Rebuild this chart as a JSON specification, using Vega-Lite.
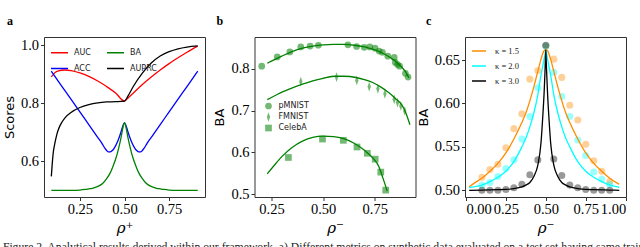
{
  "$schema": "https://vega.github.io/schema/vega-lite/v6.json",
  "padding": {"left": 2, "top": 14, "right": 0, "bottom": 0},
  "background": "white",
  "spacing": 49.5,
  "bounds": "flush",
  "resolve": {"scale": {"color": "independent", "fill": "independent", "shape": "independent", "x": "independent", "y": "independent"}, "legend": {"color": "independent", "shape": "independent"}},
  "title": {
    "text": "Figure 2. Analytical results derived within our framework. a) Different metrics on synthetic data evaluated on a test set having same train",
    "orient": "bottom", "anchor": "start", "frame": "bounds",
    "font": "Liberation Serif", "fontSize": 11.7, "fontWeight": "normal", "color": "#222",
    "offset": 6
  },
  "datasets": {
    "a": [
      {"m":"AUC","x":0.09,"y":0.890},{"m":"AUC","x":0.11,"y":0.905},{"m":"AUC","x":0.13,"y":0.911},{"m":"AUC","x":0.165,"y":0.914},{"m":"AUC","x":0.2,"y":0.912},{"m":"AUC","x":0.25,"y":0.904},{"m":"AUC","x":0.3,"y":0.892},{"m":"AUC","x":0.35,"y":0.876},{"m":"AUC","x":0.4,"y":0.857},{"m":"AUC","x":0.45,"y":0.835},{"m":"AUC","x":0.5,"y":0.807},{"m":"AUC","x":0.52,"y":0.818},{"m":"AUC","x":0.55,"y":0.835},{"m":"AUC","x":0.6,"y":0.864},{"m":"AUC","x":0.65,"y":0.890},{"m":"AUC","x":0.7,"y":0.914},{"m":"AUC","x":0.75,"y":0.936},{"m":"AUC","x":0.8,"y":0.956},{"m":"AUC","x":0.85,"y":0.975},{"m":"AUC","x":0.91,"y":0.996},
      {"m":"ACC","x":0.09,"y":0.910},{"m":"ACC","x":0.15,"y":0.857},{"m":"ACC","x":0.2,"y":0.814},{"m":"ACC","x":0.25,"y":0.770},{"m":"ACC","x":0.3,"y":0.726},{"m":"ACC","x":0.35,"y":0.682},{"m":"ACC","x":0.37,"y":0.665},{"m":"ACC","x":0.38,"y":0.655},{"m":"ACC","x":0.39,"y":0.645},{"m":"ACC","x":0.4,"y":0.637},{"m":"ACC","x":0.41,"y":0.632},{"m":"ACC","x":0.42,"y":0.632},{"m":"ACC","x":0.43,"y":0.636},{"m":"ACC","x":0.44,"y":0.643},{"m":"ACC","x":0.45,"y":0.653},{"m":"ACC","x":0.46,"y":0.666},{"m":"ACC","x":0.47,"y":0.682},{"m":"ACC","x":0.48,"y":0.700},{"m":"ACC","x":0.49,"y":0.720},{"m":"ACC","x":0.5,"y":0.732},{"m":"ACC","x":0.51,"y":0.720},{"m":"ACC","x":0.52,"y":0.700},{"m":"ACC","x":0.53,"y":0.682},{"m":"ACC","x":0.54,"y":0.666},{"m":"ACC","x":0.55,"y":0.653},{"m":"ACC","x":0.56,"y":0.643},{"m":"ACC","x":0.57,"y":0.636},{"m":"ACC","x":0.58,"y":0.632},{"m":"ACC","x":0.59,"y":0.632},{"m":"ACC","x":0.6,"y":0.637},{"m":"ACC","x":0.61,"y":0.645},{"m":"ACC","x":0.62,"y":0.655},{"m":"ACC","x":0.63,"y":0.665},{"m":"ACC","x":0.65,"y":0.682},{"m":"ACC","x":0.7,"y":0.726},{"m":"ACC","x":0.75,"y":0.770},{"m":"ACC","x":0.8,"y":0.814},{"m":"ACC","x":0.85,"y":0.857},{"m":"ACC","x":0.91,"y":0.910},
      {"m":"BA","x":0.09,"y":0.5},{"m":"BA","x":0.2,"y":0.5},{"m":"BA","x":0.25,"y":0.501},{"m":"BA","x":0.28,"y":0.503},{"m":"BA","x":0.3,"y":0.505},{"m":"BA","x":0.32,"y":0.507},{"m":"BA","x":0.34,"y":0.511},{"m":"BA","x":0.36,"y":0.516},{"m":"BA","x":0.38,"y":0.525},{"m":"BA","x":0.4,"y":0.540},{"m":"BA","x":0.42,"y":0.560},{"m":"BA","x":0.44,"y":0.590},{"m":"BA","x":0.45,"y":0.607},{"m":"BA","x":0.46,"y":0.627},{"m":"BA","x":0.47,"y":0.652},{"m":"BA","x":0.48,"y":0.680},{"m":"BA","x":0.49,"y":0.712},{"m":"BA","x":0.495,"y":0.726},{"m":"BA","x":0.5,"y":0.733},{"m":"BA","x":0.505,"y":0.726},{"m":"BA","x":0.51,"y":0.712},{"m":"BA","x":0.52,"y":0.680},{"m":"BA","x":0.53,"y":0.652},{"m":"BA","x":0.54,"y":0.627},{"m":"BA","x":0.55,"y":0.607},{"m":"BA","x":0.56,"y":0.590},{"m":"BA","x":0.58,"y":0.560},{"m":"BA","x":0.6,"y":0.540},{"m":"BA","x":0.62,"y":0.525},{"m":"BA","x":0.64,"y":0.516},{"m":"BA","x":0.66,"y":0.511},{"m":"BA","x":0.68,"y":0.507},{"m":"BA","x":0.7,"y":0.505},{"m":"BA","x":0.72,"y":0.503},{"m":"BA","x":0.75,"y":0.501},{"m":"BA","x":0.8,"y":0.5},{"m":"BA","x":0.91,"y":0.5},
      {"m":"AUPRC","x":0.09,"y":0.548},{"m":"AUPRC","x":0.095,"y":0.590},{"m":"AUPRC","x":0.1,"y":0.625},{"m":"AUPRC","x":0.11,"y":0.662},{"m":"AUPRC","x":0.12,"y":0.690},{"m":"AUPRC","x":0.13,"y":0.710},{"m":"AUPRC","x":0.15,"y":0.735},{"m":"AUPRC","x":0.17,"y":0.752},{"m":"AUPRC","x":0.2,"y":0.768},{"m":"AUPRC","x":0.25,"y":0.785},{"m":"AUPRC","x":0.3,"y":0.795},{"m":"AUPRC","x":0.35,"y":0.801},{"m":"AUPRC","x":0.4,"y":0.804},{"m":"AUPRC","x":0.45,"y":0.805},{"m":"AUPRC","x":0.5,"y":0.807},{"m":"AUPRC","x":0.52,"y":0.825},{"m":"AUPRC","x":0.55,"y":0.858},{"m":"AUPRC","x":0.6,"y":0.903},{"m":"AUPRC","x":0.65,"y":0.938},{"m":"AUPRC","x":0.7,"y":0.962},{"m":"AUPRC","x":0.75,"y":0.977},{"m":"AUPRC","x":0.8,"y":0.987},{"m":"AUPRC","x":0.85,"y":0.993},{"m":"AUPRC","x":0.91,"y":0.997}
    ],
    "bp": [
      {"d":"pMNIST","x":0.203,"y":0.806},{"d":"pMNIST","x":0.278,"y":0.828},{"d":"pMNIST","x":0.339,"y":0.840},{"d":"pMNIST","x":0.392,"y":0.852},{"d":"pMNIST","x":0.437,"y":0.854},{"d":"pMNIST","x":0.477,"y":0.856},{"d":"pMNIST","x":0.620,"y":0.857},{"d":"pMNIST","x":0.662,"y":0.853},{"d":"pMNIST","x":0.699,"y":0.851},{"d":"pMNIST","x":0.726,"y":0.852},{"d":"pMNIST","x":0.751,"y":0.849},{"d":"pMNIST","x":0.771,"y":0.842},{"d":"pMNIST","x":0.787,"y":0.839},{"d":"pMNIST","x":0.813,"y":0.830},{"d":"pMNIST","x":0.844,"y":0.827},{"d":"pMNIST","x":0.849,"y":0.815},{"d":"pMNIST","x":0.860,"y":0.810},{"d":"pMNIST","x":0.870,"y":0.806},{"d":"pMNIST","x":0.898,"y":0.789},{"d":"pMNIST","x":0.911,"y":0.780},
      {"d":"FMNIST","x":0.392,"y":0.769},{"d":"FMNIST","x":0.565,"y":0.780},{"d":"FMNIST","x":0.663,"y":0.772},{"d":"FMNIST","x":0.723,"y":0.757},{"d":"FMNIST","x":0.765,"y":0.752},{"d":"FMNIST","x":0.799,"y":0.740},{"d":"FMNIST","x":0.844,"y":0.727},{"d":"FMNIST","x":0.860,"y":0.719},{"d":"FMNIST","x":0.876,"y":0.711},{"d":"FMNIST","x":0.895,"y":0.699},
      {"d":"CelebA","x":0.332,"y":0.588},{"d":"CelebA","x":0.497,"y":0.632},{"d":"CelebA","x":0.598,"y":0.629},{"d":"CelebA","x":0.664,"y":0.613},{"d":"CelebA","x":0.714,"y":0.598},{"d":"CelebA","x":0.752,"y":0.584},{"d":"CelebA","x":0.779,"y":0.553},{"d":"CelebA","x":0.803,"y":0.510}
    ],
    "bc": [
      {"d":"pMNIST","x":0.23,"y":0.813},{"d":"pMNIST","x":0.3,"y":0.830},{"d":"pMNIST","x":0.35,"y":0.841},{"d":"pMNIST","x":0.4,"y":0.849},{"d":"pMNIST","x":0.45,"y":0.854},{"d":"pMNIST","x":0.5,"y":0.857},{"d":"pMNIST","x":0.55,"y":0.858},{"d":"pMNIST","x":0.6,"y":0.858},{"d":"pMNIST","x":0.65,"y":0.856},{"d":"pMNIST","x":0.7,"y":0.852},{"d":"pMNIST","x":0.75,"y":0.845},{"d":"pMNIST","x":0.8,"y":0.834},{"d":"pMNIST","x":0.85,"y":0.818},{"d":"pMNIST","x":0.88,"y":0.804},{"d":"pMNIST","x":0.9,"y":0.792},{"d":"pMNIST","x":0.915,"y":0.778},
      {"d":"FMNIST","x":0.23,"y":0.726},{"d":"FMNIST","x":0.28,"y":0.739},{"d":"FMNIST","x":0.336,"y":0.751},{"d":"FMNIST","x":0.4,"y":0.763},{"d":"FMNIST","x":0.45,"y":0.771},{"d":"FMNIST","x":0.5,"y":0.777},{"d":"FMNIST","x":0.56,"y":0.782},{"d":"FMNIST","x":0.6,"y":0.782},{"d":"FMNIST","x":0.66,"y":0.779},{"d":"FMNIST","x":0.7,"y":0.774},{"d":"FMNIST","x":0.74,"y":0.767},{"d":"FMNIST","x":0.78,"y":0.756},{"d":"FMNIST","x":0.82,"y":0.742},{"d":"FMNIST","x":0.85,"y":0.729},{"d":"FMNIST","x":0.88,"y":0.714},{"d":"FMNIST","x":0.9,"y":0.695},{"d":"FMNIST","x":0.92,"y":0.666},
      {"d":"CelebA","x":0.23,"y":0.549},{"d":"CelebA","x":0.26,"y":0.567},{"d":"CelebA","x":0.3,"y":0.590},{"d":"CelebA","x":0.35,"y":0.612},{"d":"CelebA","x":0.4,"y":0.627},{"d":"CelebA","x":0.45,"y":0.636},{"d":"CelebA","x":0.5,"y":0.639},{"d":"CelebA","x":0.55,"y":0.638},{"d":"CelebA","x":0.6,"y":0.633},{"d":"CelebA","x":0.65,"y":0.622},{"d":"CelebA","x":0.7,"y":0.605},{"d":"CelebA","x":0.74,"y":0.587},{"d":"CelebA","x":0.77,"y":0.566},{"d":"CelebA","x":0.79,"y":0.538},{"d":"CelebA","x":0.81,"y":0.508}
    ],
    "cc": [
      {"k":"κ = 1.5","x":0.02,"y":0.504},{"k":"κ = 1.5","x":0.05,"y":0.508},{"k":"κ = 1.5","x":0.1,"y":0.514},{"k":"κ = 1.5","x":0.15,"y":0.522},{"k":"κ = 1.5","x":0.2,"y":0.531},{"k":"κ = 1.5","x":0.25,"y":0.543},{"k":"κ = 1.5","x":0.3,"y":0.559},{"k":"κ = 1.5","x":0.35,"y":0.578},{"k":"κ = 1.5","x":0.375,"y":0.589},{"k":"κ = 1.5","x":0.4,"y":0.603},{"k":"κ = 1.5","x":0.425,"y":0.619},{"k":"κ = 1.5","x":0.45,"y":0.637},{"k":"κ = 1.5","x":0.47,"y":0.651},{"k":"κ = 1.5","x":0.48,"y":0.657},{"k":"κ = 1.5","x":0.49,"y":0.661},{"k":"κ = 1.5","x":0.5,"y":0.662},{"k":"κ = 1.5","x":0.51,"y":0.661},{"k":"κ = 1.5","x":0.52,"y":0.657},{"k":"κ = 1.5","x":0.53,"y":0.651},{"k":"κ = 1.5","x":0.55,"y":0.637},{"k":"κ = 1.5","x":0.575,"y":0.619},{"k":"κ = 1.5","x":0.6,"y":0.603},{"k":"κ = 1.5","x":0.625,"y":0.589},{"k":"κ = 1.5","x":0.65,"y":0.578},{"k":"κ = 1.5","x":0.7,"y":0.559},{"k":"κ = 1.5","x":0.75,"y":0.543},{"k":"κ = 1.5","x":0.8,"y":0.531},{"k":"κ = 1.5","x":0.85,"y":0.522},{"k":"κ = 1.5","x":0.9,"y":0.514},{"k":"κ = 1.5","x":0.95,"y":0.508},{"k":"κ = 1.5","x":0.96,"y":0.507},
      {"k":"κ = 2.0","x":0.02,"y":0.503},{"k":"κ = 2.0","x":0.05,"y":0.504},{"k":"κ = 2.0","x":0.1,"y":0.506},{"k":"κ = 2.0","x":0.15,"y":0.510},{"k":"κ = 2.0","x":0.2,"y":0.515},{"k":"κ = 2.0","x":0.25,"y":0.522},{"k":"κ = 2.0","x":0.3,"y":0.533},{"k":"κ = 2.0","x":0.35,"y":0.550},{"k":"κ = 2.0","x":0.375,"y":0.560},{"k":"κ = 2.0","x":0.4,"y":0.573},{"k":"κ = 2.0","x":0.425,"y":0.589},{"k":"κ = 2.0","x":0.45,"y":0.610},{"k":"κ = 2.0","x":0.47,"y":0.633},{"k":"κ = 2.0","x":0.48,"y":0.642},{"k":"κ = 2.0","x":0.49,"y":0.652},{"k":"κ = 2.0","x":0.495,"y":0.657},{"k":"κ = 2.0","x":0.5,"y":0.662},{"k":"κ = 2.0","x":0.505,"y":0.657},{"k":"κ = 2.0","x":0.51,"y":0.652},{"k":"κ = 2.0","x":0.52,"y":0.642},{"k":"κ = 2.0","x":0.53,"y":0.633},{"k":"κ = 2.0","x":0.55,"y":0.610},{"k":"κ = 2.0","x":0.575,"y":0.589},{"k":"κ = 2.0","x":0.6,"y":0.573},{"k":"κ = 2.0","x":0.625,"y":0.560},{"k":"κ = 2.0","x":0.65,"y":0.550},{"k":"κ = 2.0","x":0.7,"y":0.533},{"k":"κ = 2.0","x":0.75,"y":0.522},{"k":"κ = 2.0","x":0.8,"y":0.515},{"k":"κ = 2.0","x":0.85,"y":0.510},{"k":"κ = 2.0","x":0.9,"y":0.506},{"k":"κ = 2.0","x":0.95,"y":0.504},{"k":"κ = 2.0","x":0.96,"y":0.5035},
      {"k":"κ = 3.0","x":0.02,"y":0.5},{"k":"κ = 3.0","x":0.1,"y":0.5003},{"k":"κ = 3.0","x":0.2,"y":0.5008},{"k":"κ = 3.0","x":0.25,"y":0.501},{"k":"κ = 3.0","x":0.3,"y":0.502},{"k":"κ = 3.0","x":0.35,"y":0.504},{"k":"κ = 3.0","x":0.375,"y":0.506},{"k":"κ = 3.0","x":0.4,"y":0.509},{"k":"κ = 3.0","x":0.425,"y":0.516},{"k":"κ = 3.0","x":0.45,"y":0.529},{"k":"κ = 3.0","x":0.47,"y":0.555},{"k":"κ = 3.0","x":0.48,"y":0.582},{"k":"κ = 3.0","x":0.49,"y":0.615},{"k":"κ = 3.0","x":0.495,"y":0.637},{"k":"κ = 3.0","x":0.5,"y":0.662},{"k":"κ = 3.0","x":0.505,"y":0.637},{"k":"κ = 3.0","x":0.51,"y":0.615},{"k":"κ = 3.0","x":0.52,"y":0.582},{"k":"κ = 3.0","x":0.53,"y":0.555},{"k":"κ = 3.0","x":0.55,"y":0.529},{"k":"κ = 3.0","x":0.575,"y":0.516},{"k":"κ = 3.0","x":0.6,"y":0.509},{"k":"κ = 3.0","x":0.625,"y":0.506},{"k":"κ = 3.0","x":0.65,"y":0.504},{"k":"κ = 3.0","x":0.7,"y":0.502},{"k":"κ = 3.0","x":0.75,"y":0.501},{"k":"κ = 3.0","x":0.8,"y":0.5008},{"k":"κ = 3.0","x":0.9,"y":0.5003},{"k":"κ = 3.0","x":0.96,"y":0.5}
    ],
    "cp": [
      {"g":"1.5","x":0.1,"y":0.515},{"g":"1.5","x":0.15,"y":0.524},{"g":"1.5","x":0.2,"y":0.530},{"g":"1.5","x":0.25,"y":0.549},{"g":"1.5","x":0.3,"y":0.571},{"g":"1.5","x":0.35,"y":0.588},{"g":"1.5","x":0.4,"y":0.628},{"g":"1.5","x":0.45,"y":0.638},{"g":"1.5","x":0.5,"y":0.666},{"g":"1.5","x":0.55,"y":0.651},{"g":"1.5","x":0.6,"y":0.630},{"g":"1.5","x":0.65,"y":0.598},{"g":"1.5","x":0.7,"y":0.581},{"g":"1.5","x":0.75,"y":0.553},{"g":"1.5","x":0.8,"y":0.534},{"g":"1.5","x":0.85,"y":0.522},{"g":"1.5","x":0.9,"y":0.510},
      {"g":"2.0","x":0.1,"y":0.506},{"g":"2.0","x":0.15,"y":0.509},{"g":"2.0","x":0.2,"y":0.516},{"g":"2.0","x":0.25,"y":0.525},{"g":"2.0","x":0.3,"y":0.535},{"g":"2.0","x":0.35,"y":0.559},{"g":"2.0","x":0.4,"y":0.585},{"g":"2.0","x":0.45,"y":0.618},{"g":"2.0","x":0.5,"y":0.666},{"g":"2.0","x":0.55,"y":0.636},{"g":"2.0","x":0.6,"y":0.608},{"g":"2.0","x":0.65,"y":0.585},{"g":"2.0","x":0.7,"y":0.558},{"g":"2.0","x":0.75,"y":0.540},{"g":"2.0","x":0.8,"y":0.521},{"g":"2.0","x":0.85,"y":0.513},{"g":"2.0","x":0.9,"y":0.507},
      {"g":"3.0","x":0.1,"y":0.500},{"g":"3.0","x":0.15,"y":0.500},{"g":"3.0","x":0.2,"y":0.500},{"g":"3.0","x":0.25,"y":0.501},{"g":"3.0","x":0.3,"y":0.503},{"g":"3.0","x":0.35,"y":0.507},{"g":"3.0","x":0.4,"y":0.518},{"g":"3.0","x":0.45,"y":0.535},{"g":"3.0","x":0.5,"y":0.667},{"g":"3.0","x":0.55,"y":0.536},{"g":"3.0","x":0.6,"y":0.517},{"g":"3.0","x":0.65,"y":0.506},{"g":"3.0","x":0.7,"y":0.503},{"g":"3.0","x":0.75,"y":0.501},{"g":"3.0","x":0.8,"y":0.500},{"g":"3.0","x":0.85,"y":0.500},{"g":"3.0","x":0.9,"y":0.500}
    ]
  },
  "hconcat": [
    {
      "width": 161, "height": 160,
      "title": {"text": "a", "anchor": "start", "frame": "group", "dx": -37, "offset": 9, "font": "Liberation Serif", "fontWeight": "bold", "fontSize": 12},
      "data": {"name": "a"},
      "mark": {"type": "line", "strokeWidth": 1.3, "interpolate": "monotone"},
      "encoding": {
        "x": {"field": "x", "type": "quantitative", "scale": {"domain": [0.049, 0.951], "nice": false, "zero": false},
              "axis": {"values": [0.25, 0.5, 0.75], "format": ".2f", "title": "ρ⁺"}},
        "y": {"field": "y", "type": "quantitative", "scale": {"domain": [0.477, 1.0276], "nice": false, "zero": false},
              "axis": {"values": [0.6, 0.8, 1.0], "format": ".1f", "title": "Scores"}},
        "color": {"field": "m", "type": "nominal",
                  "scale": {"domain": ["AUC", "ACC", "BA", "AUPRC"], "range": ["#ff0000", "#0000ff", "#008000", "#000000"]},
                  "legend": {"orient": "top-left", "offset": 6, "columns": 2, "columnPadding": 13, "rowPadding": 2, "symbolType": "stroke", "symbolSize": 289, "symbolStrokeWidth": 1.5, "labelOffset": 5, "labelFont": "DejaVu Sans", "labelFontSize": 8, "title": null, "padding": 0}}
      }
    },
    {
      "width": 161, "height": 160,
      "title": {"text": "b", "anchor": "start", "frame": "group", "dx": -38, "offset": 9, "font": "Liberation Serif", "fontWeight": "bold", "fontSize": 12},
      "layer": [
        {
          "data": {"name": "bp"},
          "mark": {"type": "point", "filled": true, "color": "#008000", "opacity": 0.55, "size": 45, "strokeWidth": 0},
          "encoding": {
            "x": {"field": "x", "type": "quantitative", "scale": {"domain": [0.168, 0.947], "nice": false, "zero": false},
                  "axis": {"values": [0.25, 0.5, 0.75], "format": ".2f", "title": "ρ⁻"}},
            "y": {"field": "y", "type": "quantitative", "scale": {"domain": [0.4936, 0.8757], "nice": false, "zero": false},
                  "axis": {"values": [0.5, 0.6, 0.7, 0.8], "format": ".1f", "title": "BA"}},
            "shape": {"field": "d", "type": "nominal",
                      "scale": {"domain": ["pMNIST", "FMNIST", "CelebA"], "range": ["circle", "M0,-1.45L0.5,0L0,1.45L-0.5,0Z", "square"]},
                      "legend": {"orient": "none", "legendX": 10, "legendY": 65, "title": null, "padding": 0, "rowPadding": 2, "labelOffset": 6, "labelFont": "DejaVu Sans", "labelFontSize": 8, "symbolSize": 45, "symbolFillColor": "#008000", "symbolOpacity": 0.55, "symbolStrokeWidth": 0}}
          }
        },
        {
          "data": {"name": "bc"},
          "mark": {"type": "line", "color": "#008000", "strokeWidth": 1.3, "interpolate": "monotone"},
          "encoding": {
            "x": {"field": "x", "type": "quantitative"},
            "y": {"field": "y", "type": "quantitative"},
            "detail": {"field": "d", "type": "nominal"}
          }
        }
      ]
    },
    {
      "width": 161, "height": 160,
      "title": {"text": "c", "anchor": "start", "frame": "group", "dx": -39, "offset": 9, "font": "Liberation Serif", "fontWeight": "bold", "fontSize": 12},
      "resolve": {"scale": {"fill": "independent", "color": "independent"}, "legend": {"fill": "independent", "color": "independent"}},
      "layer": [
        {
          "data": {"name": "cp"},
          "mark": {"type": "circle", "size": 50, "fillOpacity": 0.4, "strokeWidth": 0},
          "encoding": {
            "x": {"field": "x", "type": "quantitative", "scale": {"domain": [-0.006, 1.002], "nice": false, "zero": false},
                  "axis": {"values": [0, 0.25, 0.5, 0.75, 1.0], "format": ".2f", "title": "ρ⁻"}},
            "y": {"field": "y", "type": "quantitative", "scale": {"domain": [0.4923, 0.6765], "nice": false, "zero": false},
                  "axis": {"values": [0.5, 0.55, 0.6, 0.65], "format": ".2f", "title": "BA"}},
            "fill": {"field": "g", "type": "nominal",
                     "scale": {"domain": ["1.5", "2.0", "3.0"], "range": ["#ff8c00", "#00ffff", "#000000"]},
                     "legend": null}
          }
        },
        {
          "data": {"name": "cc"},
          "mark": {"type": "line", "strokeWidth": 1.3, "interpolate": "monotone"},
          "encoding": {
            "x": {"field": "x", "type": "quantitative"},
            "y": {"field": "y", "type": "quantitative"},
            "color": {"field": "k", "type": "nominal",
                      "scale": {"domain": ["κ = 1.5", "κ = 2.0", "κ = 3.0"], "range": ["#ff8c00", "#00ffff", "#000000"]},
                      "legend": {"orient": "top-left", "offset": 6, "title": null, "padding": 0, "rowPadding": 2, "symbolType": "stroke", "symbolSize": 196, "symbolStrokeWidth": 1.5, "labelOffset": 8, "labelFont": "Liberation Serif", "labelFontSize": 8.5}}
          }
        }
      ]
    }
  ],
  "config": {
    "view": {"stroke": "#333", "strokeWidth": 1},
    "axis": {"grid": false, "domain": false, "tickColor": "#333", "tickSize": 3.5, "labelFont": "Liberation Serif", "labelFontSize": 14.5, "labelColor": "black", "titleFont": "DejaVu Sans", "titleFontSize": 13, "titleFontWeight": "normal", "titleColor": "black"},
    "axisX": {"titleFont": "DejaVu Serif", "titleFontStyle": "italic", "titleFontSize": 15, "titlePadding": 4},
    "legend": {"labelColor": "#222"}
  }
}
